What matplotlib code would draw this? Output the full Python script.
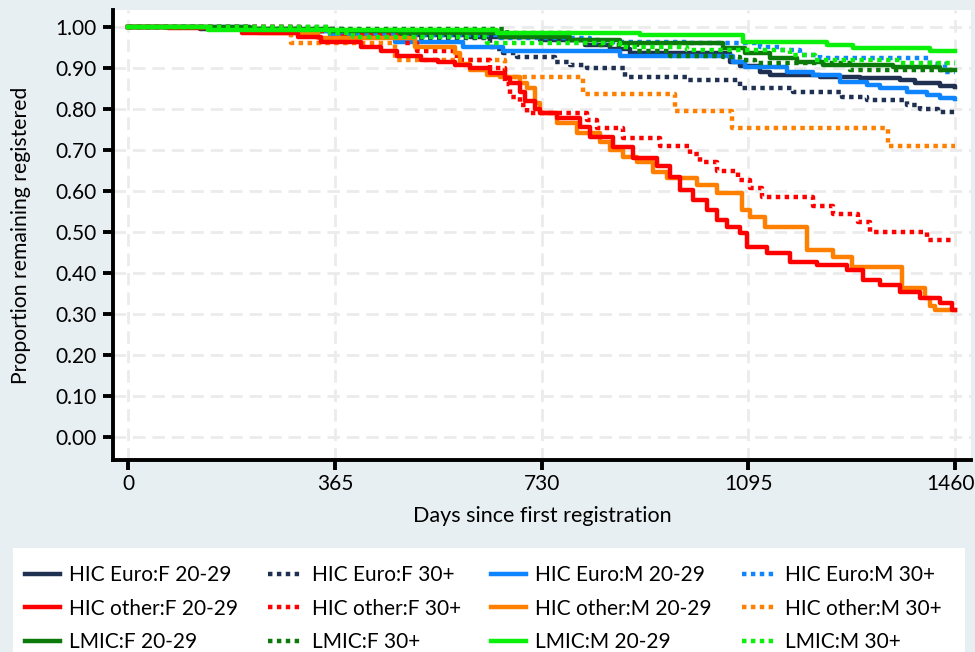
import matplotlib
matplotlib.use("Agg")
import matplotlib.pyplot as plt
import matplotlib.transforms as mtransforms
from matplotlib.patches import Rectangle
from matplotlib.ticker import FormatStrFormatter

plt.rcParams["font.family"] = ["Lato", "DejaVu Sans"]

# ===========================
# DATA (step points: day, proportion remaining)
# ===========================

euro_f20_days = [0, 127, 304, 480, 604, 727, 807, 851, 886, 1063, 1080, 1116, 1133, 1222, 1292, 1363, 1389, 1434, 1460]
euro_f20_surv = [1.0, 0.995, 0.99, 0.98, 0.975, 0.968, 0.955, 0.945, 0.937, 0.915, 0.905, 0.89, 0.883, 0.878, 0.875, 0.87, 0.863, 0.855, 0.853]

euro_f30_days = [0, 230, 380, 475, 639, 648, 662, 687, 754, 780, 810, 877, 987, 1080, 1174, 1260, 1305, 1375, 1398, 1430, 1460]
euro_f30_surv = [1.0, 0.995, 0.985, 0.973, 0.95, 0.945, 0.937, 0.927, 0.915, 0.907, 0.9, 0.878, 0.87, 0.85, 0.84, 0.83, 0.822, 0.81, 0.8, 0.793, 0.793]

euro_m20_days = [0, 215, 357, 471, 591, 662, 869, 1068, 1089, 1163, 1209, 1257, 1305, 1328, 1375, 1411, 1434, 1460]
euro_m20_surv = [1.0, 0.99, 0.98, 0.963, 0.95, 0.94, 0.93, 0.915, 0.902, 0.89, 0.883, 0.866, 0.858, 0.85, 0.842, 0.834, 0.826, 0.824]

euro_m30_days = [0, 304, 480, 657, 816, 987, 1116, 1151, 1186, 1222, 1416, 1442, 1460]
euro_m30_surv = [1.0, 0.99, 0.98, 0.972, 0.963, 0.96, 0.95, 0.944, 0.932, 0.924, 0.91, 0.89, 0.89]

other_f20_days = [0, 70, 200, 300, 341, 411, 447, 475, 516, 546, 577, 604, 639, 666, 674, 692, 701, 719, 727, 757,
                  798, 816, 856, 892, 934, 957, 975, 998, 1022, 1040, 1058, 1080, 1093, 1128, 1169, 1216, 1269, 1298,
                  1328, 1363, 1398, 1434, 1455, 1460]
other_f20_surv = [1.0, 0.998, 0.985, 0.976, 0.963, 0.95, 0.94, 0.93, 0.92, 0.915, 0.907, 0.9, 0.888, 0.876, 0.863, 0.84,
                  0.82, 0.8, 0.79, 0.778, 0.756, 0.732, 0.707, 0.68, 0.66, 0.634, 0.602, 0.578, 0.554, 0.53, 0.512,
                  0.497, 0.463, 0.449, 0.427, 0.42, 0.407, 0.383, 0.37, 0.354, 0.339, 0.327, 0.31, 0.31]

other_f30_days = [0, 304, 380, 486, 510, 580, 639, 666, 674, 692, 704, 810, 828, 874, 939, 992, 1010, 1040, 1077, 1098,
                  1119, 1209, 1245, 1289, 1310, 1411, 1460]
other_f30_surv = [1.0, 0.99, 0.98, 0.96, 0.94, 0.92, 0.9, 0.86, 0.83, 0.81, 0.79, 0.773, 0.754, 0.73, 0.71, 0.69, 0.67,
                  0.649, 0.627, 0.607, 0.585, 0.563, 0.544, 0.524, 0.5, 0.48, 0.48]

other_m20_days = [0, 150, 230, 335, 507, 577, 586, 604, 634, 657, 692, 704, 719, 727, 757, 793, 833, 851, 874, 899, 927,
                  952, 1005, 1040, 1084, 1098, 1125, 1199, 1245, 1278, 1367, 1407, 1416, 1425, 1460]
other_m20_surv = [1.0, 0.995, 0.985, 0.973, 0.95, 0.937, 0.91, 0.895, 0.883, 0.878, 0.863, 0.85, 0.815, 0.79, 0.766,
                  0.742, 0.72, 0.7, 0.683, 0.67, 0.646, 0.632, 0.615, 0.595, 0.554, 0.537, 0.512, 0.456, 0.44, 0.415,
                  0.363, 0.34, 0.32, 0.31, 0.31]

other_m30_days = [0, 288, 471, 666, 803, 966, 1066, 1342, 1460]
other_m30_surv = [1.0, 0.96, 0.92, 0.878, 0.837, 0.795, 0.754, 0.71, 0.71]

lmic_f20_days = [0, 215, 357, 480, 657, 780, 869, 1050, 1089, 1133, 1181, 1227, 1351, 1434, 1460]
lmic_f20_surv = [1.0, 0.995, 0.99, 0.985, 0.976, 0.968, 0.96, 0.948, 0.936, 0.924, 0.915, 0.907, 0.902, 0.895, 0.895]

lmic_f30_days = [0, 357, 669, 780, 833, 899, 957, 1050, 1080, 1107, 1275, 1460]
lmic_f30_surv = [1.0, 0.995, 0.985, 0.968, 0.955, 0.94, 0.93, 0.927, 0.92, 0.912, 0.895, 0.895]

lmic_m20_days = [0, 141, 651, 904, 1086, 1234, 1280, 1416, 1460]
lmic_m20_surv = [1.0, 0.993, 0.985, 0.98, 0.963, 0.956, 0.948, 0.942, 0.942]

lmic_m30_days = [0, 357, 397, 634, 869, 987, 1169, 1213, 1363, 1460]
lmic_m30_surv = [1.0, 0.985, 0.976, 0.96, 0.95, 0.944, 0.932, 0.92, 0.912, 0.912]

x_ticks = [0, 365, 730, 1095, 1460]
y_ticks = [0.0, 0.1, 0.2, 0.3, 0.4, 0.5, 0.6, 0.7, 0.8, 0.9, 1.0]

# ===========================
# STYLE
# ===========================

NAVY = "#1f3050"
BLUE = "#0f84ff"
RED = "#ff0000"
ORANGE = "#ff8000"
DGREEN = "#0b7a0b"
LIME = "#0bf00b"
BG = "#e8eff2"
DOT = (0, (1, 1))

# label, days, surv, colour, linestyle (drawing order)
series = [
    ("HIC Euro:F 20-29", euro_f20_days, euro_f20_surv, NAVY, "-"),
    ("HIC Euro:F 30+", euro_f30_days, euro_f30_surv, NAVY, DOT),
    ("HIC Euro:M 20-29", euro_m20_days, euro_m20_surv, BLUE, "-"),
    ("HIC Euro:M 30+", euro_m30_days, euro_m30_surv, BLUE, DOT),
    ("HIC other:M 30+", other_m30_days, other_m30_surv, ORANGE, DOT),
    ("HIC other:F 30+", other_f30_days, other_f30_surv, RED, DOT),
    ("HIC other:M 20-29", other_m20_days, other_m20_surv, ORANGE, "-"),
    ("HIC other:F 20-29", other_f20_days, other_f20_surv, RED, "-"),
    ("LMIC:F 30+", lmic_f30_days, lmic_f30_surv, DGREEN, DOT),
    ("LMIC:F 20-29", lmic_f20_days, lmic_f20_surv, DGREEN, "-"),
    ("LMIC:M 30+", lmic_m30_days, lmic_m30_surv, LIME, DOT),
    ("LMIC:M 20-29", lmic_m20_days, lmic_m20_surv, LIME, "-"),
]

# legend order (column-major for a 4-column legend read row by row)
legend_order = [
    "HIC Euro:F 20-29", "HIC other:F 20-29", "LMIC:F 20-29",
    "HIC Euro:F 30+", "HIC other:F 30+", "LMIC:F 30+",
    "HIC Euro:M 20-29", "HIC other:M 20-29", "LMIC:M 20-29",
    "HIC Euro:M 30+", "HIC other:M 30+", "LMIC:M 30+",
]

# ===========================
# PLOT
# ===========================

fig = plt.figure(figsize=(9.75, 6.52), dpi=100, facecolor=BG)
ax = fig.add_axes([113 / 975, 1 - 460 / 652, (971 - 113) / 975, (460 - 10) / 652])
ax.set_facecolor("white")

handles = {}
for label, days, surv, color, ls in series:
    line, = ax.step(days, surv, where="post", color=color, linestyle=ls, linewidth=3.2, label=label)
    handles[label] = line

ax.set_xlim(-27, 1488)
ax.set_ylim(-0.056, 1.041)
ax.set_xticks(x_ticks)
ax.set_yticks(y_ticks)
ax.yaxis.set_major_formatter(FormatStrFormatter("%.2f"))

ax.grid(True, color="#ebebeb", linestyle=(0, (4.5, 2.5)), linewidth=2)
ax.set_axisbelow(True)

for side in ["top", "right"]:
    ax.spines[side].set_visible(False)
for side in ["left", "bottom"]:
    ax.spines[side].set_linewidth(2.8)
    ax.spines[side].set_color("black")

ax.tick_params(axis="both", width=2.8, length=7, labelsize=15, colors="black")
ax.tick_params(axis="x", pad=3)
ax.tick_params(axis="y", pad=5)

# keep the last x tick label inside the figure edge
last_label = ax.get_xticklabels()[-1]
last_label.set_transform(last_label.get_transform()
                         + mtransforms.ScaledTranslation(-5 / 100, 0, fig.dpi_scale_trans))

ax.set_xlabel("Days since first registration", fontsize=15.5, labelpad=9)
ax.set_ylabel("Proportion remaining registered", fontsize=15.2, labelpad=17)

# white legend panel at the bottom
fig.patches.append(Rectangle((13 / 975, -0.05), (965 - 13) / 975, (652 - 548) / 652 + 0.05,
                             transform=fig.transFigure, facecolor="white", edgecolor="none"))

fig.legend([handles[k] for k in legend_order], legend_order, ncol=4, frameon=False,
           loc="upper left", bbox_to_anchor=(25 / 975, 1 - 565 / 652), fontsize=15,
           handlelength=1.7, handletextpad=0.4, columnspacing=1.45, labelspacing=0.66,
           borderaxespad=0, borderpad=0)

fig.savefig("out.png", dpi=100, facecolor=BG)
